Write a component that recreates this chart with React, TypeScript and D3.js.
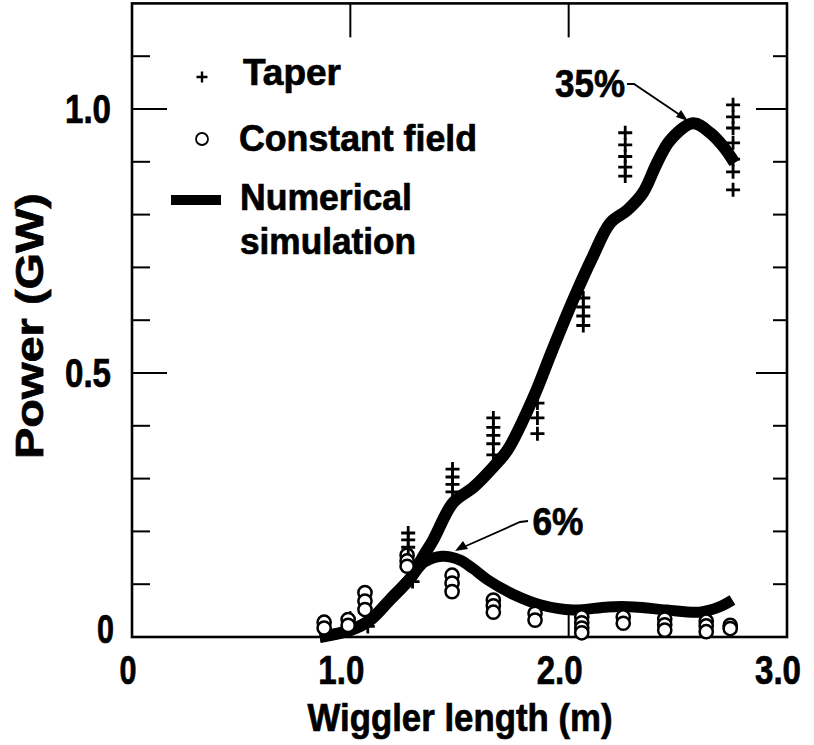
import React from "react";
import * as d3 from "d3";

// ---- data ----
const xTicks = [0, 1.0, 2.0, 3.0];
const xTickLabels = ["0", "1.0", "2.0", "3.0"];
const yTickLabels = ["0", "0.5", "1.0"];
const yTickValues = [0, 0.5, 1.0];
const minorY = [0.1, 0.2, 0.3, 0.4, 0.5, 0.6, 0.7, 0.8, 0.9, 1.0, 1.1];

const taperX = [1.08, 1.265, 1.265, 1.265, 1.285, 1.468, 1.468, 1.468, 1.468,
  1.655, 1.655, 1.655, 1.655, 1.655, 1.857, 1.857, 1.857,
  2.067, 2.067, 2.067, 2.067, 2.259, 2.259, 2.259, 2.259, 2.259,
  2.753, 2.753, 2.753, 2.753, 2.753, 2.753, 2.753];
const taperY = [0.02, 0.197, 0.184, 0.17, 0.105, 0.318, 0.303, 0.289, 0.275,
  0.415, 0.397, 0.382, 0.366, 0.345, 0.443, 0.415, 0.385,
  0.642, 0.625, 0.608, 0.59, 0.955, 0.932, 0.91, 0.89, 0.873,
  1.008, 0.985, 0.964, 0.936, 0.905, 0.881, 0.847];

const constX = [0.88, 0.88, 0.99, 0.99, 1.067, 1.067, 1.067, 1.26, 1.26, 1.26,
  1.466, 1.466, 1.466, 1.655, 1.655, 1.655, 1.846, 1.846,
  2.06, 2.06, 2.06, 2.06, 2.25, 2.25, 2.44, 2.44, 2.44, 2.63, 2.63, 2.63, 2.74, 2.74];
const constY = [0.028, 0.017, 0.033, 0.022, 0.084, 0.068, 0.052, 0.155, 0.144, 0.134,
  0.117, 0.102, 0.086, 0.07, 0.059, 0.047, 0.045, 0.032,
  0.038, 0.027, 0.017, 0.008, 0.038, 0.026, 0.034, 0.023, 0.013, 0.03, 0.021, 0.01, 0.022, 0.016];

const simTaperX = [0.86, 1.0, 1.09, 1.18, 1.28, 1.33, 1.38, 1.47, 1.565, 1.655, 1.72, 1.84,
  1.92, 2.02, 2.11, 2.19, 2.27, 2.34, 2.405, 2.465, 2.57, 2.65, 2.71, 2.76];
const simTaperY = [0.0, 0.013, 0.032, 0.07, 0.114, 0.15, 0.184, 0.254, 0.284, 0.322, 0.354, 0.455,
  0.538, 0.638, 0.72, 0.784, 0.809, 0.841, 0.898, 0.941, 0.973, 0.954, 0.928, 0.898];

const simConstX = [0.86, 1.0, 1.09, 1.18, 1.28, 1.34, 1.42, 1.50, 1.56, 1.63, 1.75, 1.87,
  2.02, 2.18, 2.30, 2.45, 2.60, 2.69, 2.75];
const simConstY = [0.0, 0.013, 0.032, 0.07, 0.114, 0.142, 0.153, 0.146, 0.13, 0.108, 0.08, 0.061,
  0.051, 0.057, 0.057, 0.051, 0.047, 0.057, 0.07];

const legendItems = ["Taper", "Constant field", "Numerical", "simulation"];

const FONT = "'Liberation Sans', Arial, Helvetica, sans-serif";

export default function App() {
  const W = 814, H = 745;
  const x = d3.scaleLinear().domain([0, 3]).range([132, 787]);
  const y = d3.scaleLinear().domain([0, 1.2]).range([637, 3.4]);

  const line = d3.line<[number, number]>()
    .x(d => x(d[0])).y(d => y(d[1]))
    .curve(d3.curveCatmullRom.alpha(0.5));

  const taperPts = simTaperX.map((v, i) => [v, simTaperY[i]] as [number, number]);
  const constPts = simConstX.map((v, i) => [v, simConstY[i]] as [number, number]);

  const plus = (cx: number, cy: number, s: number) =>
    `M${cx - s},${cy}H${cx + s}M${cx},${cy - s}V${cy + s}`;

  const txt = { stroke: "#000", strokeWidth: 0.7 } as const;

  return (
    <svg width={W} height={H} style={{ position: "absolute", left: 0, top: 0 }}
      fontFamily={FONT} fontWeight="bold">
      <rect width={W} height={H} fill="#fff" />
      {/* frame */}
      <rect x={x(0)} y={y(1.2)} width={x(3) - x(0)} height={y(0) - y(1.2)}
        fill="none" stroke="#000" strokeWidth={2.6} />
      {/* left & right ticks */}
      {minorY.map(v => {
        const major = Math.abs(v - 0.5) < 1e-6 || Math.abs(v - 1.0) < 1e-6;
        return (
          <g key={"ty" + v}>
            <line x1={x(0)} x2={x(0) + (major ? 35 : 18)} y1={y(v)} y2={y(v)} stroke="#000" strokeWidth={2} />
            <line x1={x(3)} x2={x(3) - (major ? 31 : 14)} y1={y(v)} y2={y(v)} stroke="#000" strokeWidth={2} />
          </g>
        );
      })}
      {/* top & bottom ticks */}
      {[1.0, 2.0].map(v => (
        <g key={"tx" + v}>
          <line x1={x(v)} x2={x(v)} y1={y(1.2)} y2={y(1.2) + 34} stroke="#000" strokeWidth={2} />
          <line x1={x(v)} x2={x(v)} y1={y(0)} y2={y(0) - 26} stroke="#000" strokeWidth={2} />
        </g>
      ))}
      {/* y tick labels */}
      {yTickValues.map((v, i) => (
        <text key={"yl" + v} x={v === 0 ? 114 : 111} y={v === 0 ? y(v) + 6 : y(v) + 14}
          textAnchor="end" fontSize={40} {...txt}
          textLength={yTickLabels[i].length > 1 ? 46 : 17} lengthAdjust="spacingAndGlyphs">
          {yTickLabels[i]}
        </text>
      ))}
      {/* x tick labels */}
      {xTicks.map((v, i) => (
        <text key={"xl" + v} x={x(v) - (v === 0 ? 4 : 9)} y={684} textAnchor="middle" fontSize={40} {...txt}
          textLength={xTickLabels[i].length > 1 ? 46 : 17} lengthAdjust="spacingAndGlyphs">
          {xTickLabels[i]}
        </text>
      ))}
      {/* axis titles */}
      <text x={460} y={731} textAnchor="middle" fontSize={39} textLength={305} {...txt}
        lengthAdjust="spacingAndGlyphs">Wiggler length (m)</text>
      <text transform="translate(43,326) rotate(-90)" textAnchor="middle" fontSize={39} {...txt}
        textLength={266} lengthAdjust="spacingAndGlyphs">Power (GW)</text>

      {/* simulation curves */}
      <path d={line(constPts) || ""} fill="none" stroke="#000" strokeWidth={11} strokeLinecap="butt" strokeLinejoin="round" />
      <path d={line(taperPts) || ""} fill="none" stroke="#000" strokeWidth={12} strokeLinecap="butt" strokeLinejoin="round" />

      {/* constant field circles */}
      {constX.map((v, i) => (
        <circle key={"c" + i} cx={x(v)} cy={y(constY[i])} r={6.6} fill="#fff" stroke="#000" strokeWidth={2.5} />
      ))}
      {/* taper pluses */}
      {taperX.map((v, i) => (
        <path key={"p" + i} d={plus(x(v), y(taperY[i]), 7)} stroke="#000" strokeWidth={2.8} fill="none" />
      ))}

      {/* annotations */}
      <text x={590} y={97} textAnchor="middle" fontSize={39} textLength={70} {...txt} lengthAdjust="spacingAndGlyphs">35%</text>
      <path d="M627,84 L634,84 L680,115" fill="none" stroke="#000" strokeWidth={1.8} />
      <path d="M688,121 L676,117 L681,110 Z" fill="#000" />
      <text x={558} y={535} textAnchor="middle" fontSize={39} textLength={51} {...txt} lengthAdjust="spacingAndGlyphs">6%</text>
      <path d="M528,521 L520,522 L466,546" fill="none" stroke="#000" strokeWidth={1.8} />
      <path d="M455,551 L463,541 L468,549 Z" fill="#000" />

      {/* legend */}
      <path d={plus(202, 77, 5.5)} stroke="#000" strokeWidth={2.4} />
      <circle cx={202} cy={139} r={6} fill="#fff" stroke="#000" strokeWidth={1.8} />
      <rect x={171} y={195} width={50} height={10} fill="#000" />
      <text x={243} y={85} fontSize={36} {...txt} textLength={98} lengthAdjust="spacingAndGlyphs">{legendItems[0]}</text>
      <text x={239} y={151} fontSize={36} {...txt} textLength={238} lengthAdjust="spacingAndGlyphs">{legendItems[1]}</text>
      <text x={240} y={210} fontSize={36} {...txt} textLength={172} lengthAdjust="spacingAndGlyphs">{legendItems[2]}</text>
      <text x={240} y={254} fontSize={36} {...txt} textLength={176} lengthAdjust="spacingAndGlyphs">{legendItems[3]}</text>
    </svg>
  );
}
